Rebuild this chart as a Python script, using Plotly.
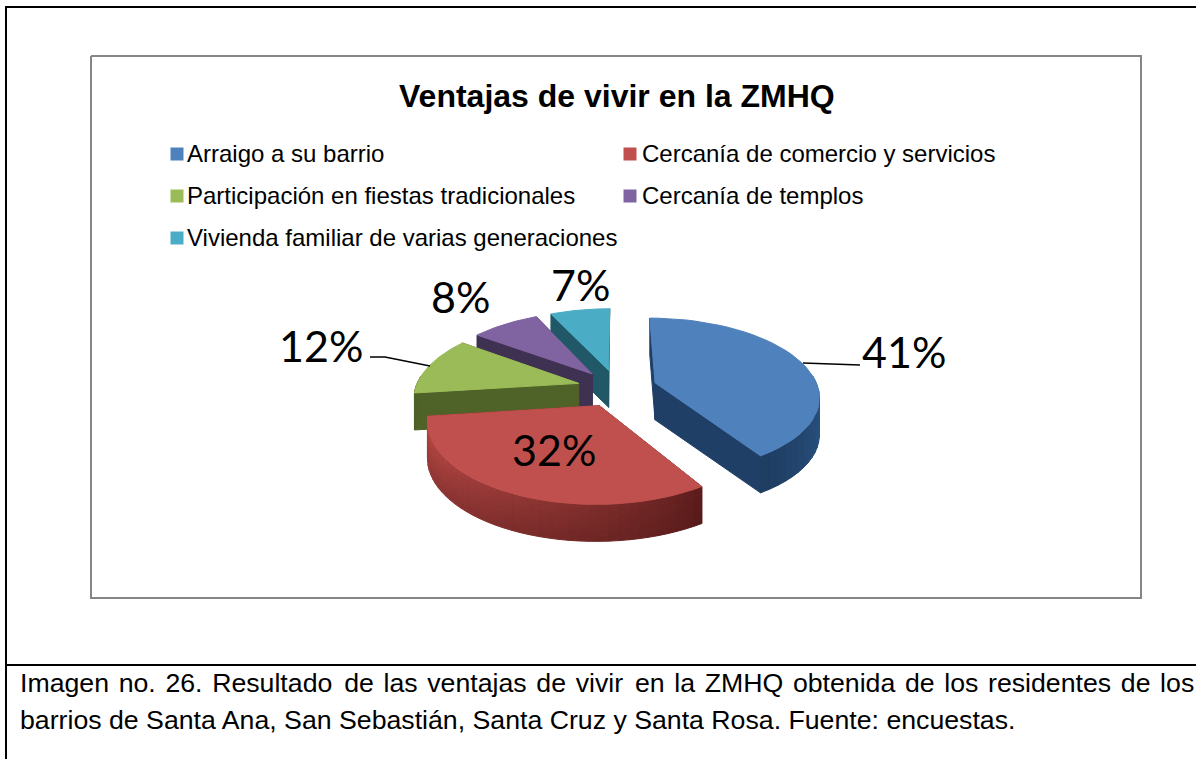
import math
import plotly.graph_objects as go

categories = ["Arraigo a su barrio", "Cercanía de comercio y servicios",
              "Participación en fiestas tradicionales", "Cercanía de templos",
              "Vivienda familiar de varias generaciones"]
values = [41, 32, 12, 8, 7]
top_colors = ["#4F81BD", "#C0504D", "#9BBB59", "#8064A2", "#4BACC6"]
wall_colors = ["#1F3F66", "#7A2B29", "#4F6228", "#3F3151", "#205867"]
title = "Ventajas de vivir en la ZMHQ"
caption_1 = "Imagen no. 26. Resultado de las ventajas de vivir en la ZMHQ obtenida de los residentes de los"
caption_2 = "barrios de Santa Ana, San Sebastián, Santa Cruz y Santa Rosa. Fuente: encuestas."

# projection of the tilted pie
CX, CY, R, P, G, E, DEPTH = 617, 388, 163, 0.16, 0.47, 40, 37


def proj(theta, mid=None, radius=1.0):
    u = radius * math.sin(theta)
    v = radius * math.cos(theta)
    if mid is not None:
        u += E / R * math.sin(mid)
        v += E / R * math.cos(mid)
    s = 1 / (1 + P * v)
    return CX + R * u * s, CY - R * G * v * s


def mix(a, b, t):
    ca = [int(a[i:i + 2], 16) for i in (1, 3, 5)]
    cb = [int(b[i:i + 2], 16) for i in (1, 3, 5)]
    return "#%02x%02x%02x" % tuple(round(x + (y - x) * t) for x, y in zip(ca, cb))


fig = go.Figure()


def poly(points, color):
    xs = [p[0] for p in points] + [points[0][0]]
    ys = [p[1] for p in points] + [points[0][1]]
    fig.add_trace(go.Scatter(x=xs, y=ys, mode="lines", fill="toself", fillcolor=color,
                             line=dict(width=1, color=color), hoverinfo="skip", showlegend=False))


total = sum(values)
angles = []
acc = 0
for v in values:
    angles.append((acc / total * 2 * math.pi, (acc + v) / total * 2 * math.pi))
    acc += v

BANDS = 7
for i in [4, 3, 2, 0, 1]:
    a0, a1 = angles[i]
    mid = (a0 + a1) / 2
    apex = proj(0, mid, 0.0)
    n = 40
    rim = [proj(a0 + (a1 - a0) * k / n, mid) for k in range(n + 1)]
    for edge in (rim[0], rim[-1]):
        poly([apex, edge, (edge[0], edge[1] + DEPTH), (apex[0], apex[1] + DEPTH)], wall_colors[i])
    for k in range(n):
        th = a0 + (a1 - a0) * (k + .5) / n
        if math.cos(th) < 0.1:
            if i == 1:
                t = (math.degrees(th) - 147.6) / 115.2
                base = mix("#5A1C1B", "#BA4A47", t ** 0.8)
                for b in range(BANDS):
                    d0, d1 = DEPTH * b / BANDS, DEPTH * (b + 1) / BANDS
                    col = mix(base, "#4A1615", 0.28 * b / (BANDS - 1))
                    poly([(rim[k][0], rim[k][1] + d0), (rim[k + 1][0], rim[k + 1][1] + d0),
                          (rim[k + 1][0], rim[k + 1][1] + d1), (rim[k][0], rim[k][1] + d1)], col)
            else:
                if i == 0:
                    t = (math.degrees(th) - 85) / 62
                    col = mix("#2C5A8E", "#1F3D61", t)
                else:
                    col = wall_colors[i]
                poly([rim[k], rim[k + 1], (rim[k + 1][0], rim[k + 1][1] + DEPTH),
                      (rim[k][0], rim[k][1] + DEPTH)], col)
    poly([apex] + rim, top_colors[i])

# frames
frames = [
    ([5, 1196], [7, 7], "#000000", 2), ([6, 6], [7, 759], "#000000", 2),
    ([5, 1196], [665, 665], "#000000", 2),
    ([91, 1141, 1141, 91, 91], [56, 56, 598, 598, 56], "#868686", 2),
    ([803, 860], [363, 365], "#000000", 1.5), ([370, 385, 430], [357, 357, 366], "#000000", 1.5),
]
for xs, ys, c, w in frames:
    fig.add_trace(go.Scatter(x=xs, y=ys, mode="lines", line=dict(color=c, width=w),
                             hoverinfo="skip", showlegend=False))

# legend keys
legend_x = [177, 630, 177, 630, 177]
legend_y = [154, 154, 196, 196, 238]
legend_text_x = [185, 640, 185, 640, 185]
fig.add_trace(go.Scatter(x=legend_x, y=legend_y, mode="markers",
                         marker=dict(symbol="square", size=13, color=top_colors, line=dict(width=0)),
                         hoverinfo="skip", showlegend=False))

ann = []
for name, x, y in zip(categories, legend_text_x, legend_y):
    ann.append(dict(x=x, y=y - 1, text=name, xanchor="left", yanchor="middle", showarrow=False,
                    font=dict(family="Liberation Sans", size=24, color="#000000")))
label_x = [904, 554, 321, 460, 580]
label_y = [351, 449, 345, 296, 284]
for v, x, y in zip(values, label_x, label_y):
    ann.append(dict(x=x, y=y, text=f"{v}%", xanchor="center", yanchor="middle", showarrow=False,
                    font=dict(family="Lato", size=43, color="#000000")))
ann.append(dict(x=617, y=96, text=title, xanchor="center", yanchor="middle", showarrow=False,
                font=dict(family="Liberation Sans", size=32, color="#000000", weight="bold")))
line_1 = caption_1.replace(" ", " \u200a").replace("Resultado ", "Resultado \u200a").replace("vivir ", "vivir \u200a")
ann.append(dict(x=18, y=683, text=line_1, xanchor="left", yanchor="middle",
                showarrow=False, font=dict(family="Liberation Sans", size=26.7, color="#000000")))
ann.append(dict(x=18, y=720, text=caption_2, xanchor="left", yanchor="middle", showarrow=False,
                font=dict(family="Liberation Sans", size=26.7, color="#000000")))
for a in ann:
    a.update(xref="x", yref="y")

fig.update_layout(width=1196, height=759, margin=dict(l=0, r=0, t=0, b=0),
                  paper_bgcolor="white", plot_bgcolor="white", annotations=ann, showlegend=False,
                  xaxis=dict(range=[0, 1196], visible=False, fixedrange=True),
                  yaxis=dict(range=[759, 0], visible=False, fixedrange=True))
fig.write_html("out.html", post_script="document.body.style.margin='0';document.body.style.overflow='hidden';",
               config=dict(displayModeBar=False))
